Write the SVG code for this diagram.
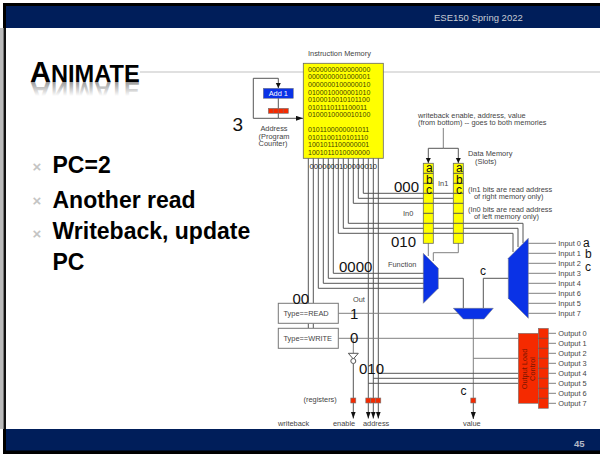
<svg xmlns="http://www.w3.org/2000/svg" width="600" height="455" viewBox="0 0 600 455">
<defs>
<style>
text{font-family:"Liberation Sans",Arial,sans-serif}
.s{font-size:7.400px;fill:#444}
.big{font-size:15px;fill:#111}
.bul{font-size:23px;font-weight:bold;fill:#000}
.x{font-size:15px;font-weight:bold;fill:#c4c4c4;text-anchor:middle}
.mem{font-size:7px;fill:#444400}
.let{font-size:12px;fill:#111}
.l{fill:none;stroke:#555;stroke-width:1}
.lg{fill:none;stroke:#808080;stroke-width:1}
.blue{fill:#0a32e6;stroke:#777;stroke-width:.5}
.red{fill:#f52a00;stroke:#777;stroke-width:.6}
.yel{fill:#ffff00;stroke:#666;stroke-width:.8}
.box{fill:#fff;stroke:#777;stroke-width:1}
.ttl{font-weight:bold}
</style>
<marker id="a" markerWidth="5" markerHeight="7" refX="5" refY="2.500" orient="auto" markerUnits="userSpaceOnUse"><path d="M0 0L5 2.500L0 5Z" fill="#111"/></marker>
<marker id="d" markerWidth="8" markerHeight="8" refX="7" refY="2.500" orient="auto" markerUnits="userSpaceOnUse"><path d="M0 0L7 2.500L0 5Z" fill="#111"/></marker>
<linearGradient id="fade" gradientUnits="userSpaceOnUse" x1="0" y1="-82" x2="0" y2="-96"><stop offset="0" stop-color="#999"/><stop offset="1" stop-color="#fff"/></linearGradient>
</defs>
<rect width="600" height="455" fill="#fff"/>
<g id="frame">
<rect x="3" y="3" width="597" height="25" fill="#000"/>
<rect x="6" y="6" width="594" height="22" fill="#001e5a"/>
<rect x="0" y="28" width="3.500" height="401" fill="#bbb"/>
<rect x="3.500" y="28" width="2.500" height="401" fill="#111"/>
<rect x="3" y="429" width="597" height="25" fill="#000"/>
<rect x="6" y="429" width="594" height="21.500" fill="#001e5a"/>
<text x="434" y="21" font-size="9.500" fill="#c8ccd4">ESE150 Spring 2022</text>
<text x="574" y="446.500" font-size="9.500" font-weight="bold" fill="#b4bac6">45</text>
<rect x="140" y="71" width="460" height="2" fill="#e0e0e0"/>
</g>
<g id="title">
<text class="ttl" x="30" y="82" fill="#000"><tspan font-size="29">A</tspan><tspan font-size="23.600">NIMATE</tspan></text>
<text class="ttl" x="30" y="-82" fill="url(#fade)" transform="scale(1,-1)"><tspan font-size="29">A</tspan><tspan font-size="23.600">NIMATE</tspan></text>
</g>
<g id="bullets">
<text class="x" x="37" y="172">×</text><text class="bul" x="52.500" y="172.700">PC=2</text>
<text class="x" x="37" y="206">×</text><text class="bul" x="52.500" y="207.700">Another read</text>
<text class="x" x="37" y="239">×</text><text class="bul" x="52.500" y="239">Writeback, update</text>
<text class="bul" x="52.500" y="270">PC</text>
</g>
<g id="connectors">
<path class="l" d="M278.300 118.300H253.300V78.300H278.300V88" marker-end="url(#a)"/>
<path class="l" d="M278.300 98V118.300H303" marker-end="url(#d)"/>
<path class="l" d="M363.300 158V193.300H453M358.300 158V198.300H453M353.300 158V203.300H453"/>
<path class="l" d="M348.300 158V223.300H523V243M343.300 158V228.300H518V247M338.300 158V233.300H513V252"/>
<path class="l" d="M333.300 158V273.300H427M328.300 158V278.300H427M323.300 158V283.300H427M318.300 158V288.300H427"/>
<path class="l" d="M308.300 158V303.300M313.300 158V303.300M308.300 323.300V328.300M313.300 323.300V328.300"/>
<path class="l" d="M368.300 158V399M373.300 158V399M378.300 158V399"/>
<path class="l" d="M368.300 403V418.500" marker-end="url(#d)"/>
<path class="l" d="M373.300 403V418.500" marker-end="url(#d)"/>
<path class="l" d="M378.300 403V418.500" marker-end="url(#d)"/>
<path class="lg" d="M443.300 128V148.300"/>
<path class="l" d="M443.300 148.300H428.300V163" marker-end="url(#a)"/>
<path class="l" d="M443.300 148.300H458.300V163" marker-end="url(#a)"/>
<path class="lg" d="M428.300 243V256M458.300 243V252.700H433.300V261"/>
<path class="l" d="M438.300 278.300H463.300V308M508.300 278.300H483.300V308"/>
<path class="lg" d="M338.300 313.300H459"/>
<path class="lg" d="M338.300 338.300H518.300"/>
<path class="lg" d="M473.300 319V398"/>
<path class="l" d="M473.300 403V419" marker-end="url(#d)"/>
<path class="lg" d="M473.300 358.300H518.300"/>
<path class="l" d="M378.300 373.300H518.300M373.300 378.300H518.300M368.300 383.300H518.300"/>
<path class="lg" d="M353.300 338.300V353.300"/>
<path class="l" d="M353.300 363.500V398"/>
<path class="l" d="M353.300 403V418.500" marker-end="url(#d)"/>
<path class="lg" d="M528.300 243.300H556M528.300 253.300H556M528.300 263.300H556M528.300 273.300H556M528.300 283.300H556M528.300 293.300H556M528.300 303.300H556M528.300 313.300H556"/>
<path class="lg" d="M548.300 333.300H556M548.300 343.300H556M548.300 353.300H556M548.300 363.300H556M548.300 373.300H556M548.300 383.300H556M548.300 393.300H556M548.300 403.300H556"/>
</g>
<g id="pc">
<rect x="263.300" y="88.300" width="30" height="10" class="blue"/>
<text x="278.300" y="96.300" font-size="7.400" fill="#fff" text-anchor="middle">Add 1</text>
<rect x="268.300" y="108.300" width="20" height="5" class="red"/>
<path d="M273.300 108.300V113.300M278.300 108.300V113.300M283.300 108.300V113.300" stroke="#777" stroke-width=".5"/>
<text class="s" x="274" y="130.700" text-anchor="middle">Address</text>
<text class="s" x="274" y="138.500" text-anchor="middle">(Program</text>
<text class="s" x="273" y="146" text-anchor="middle">Counter)</text>
<text x="232.500" y="130.500" font-size="19" fill="#111">3</text>
</g>
<g id="instruction-memory">
<text class="s" x="308" y="55.700">Instruction Memory</text>
<rect x="303.300" y="63.300" width="80" height="95" class="yel"/>
<g>
<text class="mem" x="308" y="71.800">0000000000000000</text>
<text class="mem" x="308" y="79.400">0000000001000001</text>
<text class="mem" x="308" y="87">0000000100000010</text>
<text class="mem" x="308" y="94.500">0100010000001010</text>
<text class="mem" x="308" y="102">0100010010101100</text>
<text class="mem" x="308" y="109.600">0101110111100011</text>
<text class="mem" x="308" y="117.200">0100010000010100</text>
<text class="mem" x="308" y="132">0101100000001011</text>
<text class="mem" x="308" y="139.500">0101100110101110</text>
<text class="mem" x="308" y="147">1001011100000001</text>
<text class="mem" x="308" y="154.700">1001011010000000</text>
</g>
<text x="309.500" y="168.700" font-size="7.600" fill="#222">0000000100000010</text>
</g>
<g id="data-memory">
<text class="s" x="418" y="117.500">writeback enable, address, value</text>
<text class="s" x="418" y="124.800">(from bottom) -- goes to both memories</text>
<text class="s" x="468" y="156">Data Memory</text>
<text class="s" x="475" y="164">(Slots)</text>
<text class="s" x="438" y="186">In1</text>
<text class="s" x="403" y="216">In0</text>
<text class="s" x="468" y="191.500">(In1 bits are read address</text>
<text class="s" x="474" y="199">of right memory only)</text>
<text class="s" x="468" y="211.500">(In0 bits are read address</text>
<text class="s" x="474" y="219">of left memory only)</text>
<g id="mem-left">
<rect x="423.300" y="163.300" width="10" height="80" class="yel"/>
<path class="l" d="M423.300 173.300H433.300M423.300 183.300H433.300M423.300 193.300H433.300M423.300 203.300H433.300M423.300 213.300H433.300M423.300 223.300H433.300M423.300 233.300H433.300"/>
<text class="let" x="426" y="172">a</text>
<text class="let" x="426" y="184">b</text>
<text class="let" x="426" y="194">c</text>
</g>
<g id="mem-right">
<rect x="453.300" y="163.300" width="10" height="80" class="yel"/>
<path class="l" d="M453.300 173.300H463.300M453.300 183.300H463.300M453.300 193.300H463.300M453.300 203.300H463.300M453.300 213.300H463.300M453.300 223.300H463.300M453.300 233.300H463.300"/>
<text class="let" x="456" y="172">a</text>
<text class="let" x="456" y="184">b</text>
<text class="let" x="456" y="194">c</text>
</g>
</g>
<g id="mux-left"><polygon class="blue" points="423.300,253.300 438.300,268.300 438.300,288.300 423.300,303.300"/></g>
<g id="mux-right"><polygon class="blue" points="508.300,258.300 528.300,238.300 528.300,318.300 508.300,298.300"/></g>
<g id="mux-out"><polygon class="blue" points="453.300,308.300 493.300,308.300 484,319 463.300,319"/></g>
<g id="type-read"><rect x="278.300" y="303.300" width="60" height="20" class="box"/><text class="s" x="283.500" y="316">Type==READ</text></g>
<g id="type-write"><rect x="278.300" y="328.300" width="60" height="20" class="box"/><text class="s" x="283.500" y="341">Type==WRITE</text></g>
<g id="inverter"><polygon points="348.300,353.300 358.300,353.300 353.300,359" fill="#fff" stroke="#555"/><circle cx="353.300" cy="361" r="2.500" fill="#fff" stroke="#555"/></g>
<g id="registers">
<rect x="350.800" y="398" width="5" height="5" class="red"/>
<rect x="365.800" y="398" width="5" height="5" class="red"/>
<rect x="370.800" y="398" width="5" height="5" class="red"/>
<rect x="375.800" y="398" width="5" height="5" class="red"/>
<rect x="470.800" y="398" width="5" height="5" class="red"/>
</g>
<g id="output-load-control">
<rect x="518.300" y="333.300" width="20" height="70" class="red"/>
<rect x="538.300" y="328.300" width="10" height="80" class="red"/>
<path stroke="#555" stroke-width=".7" d="M538.300 338.300H548.300M538.300 348.300H548.300M538.300 358.300H548.300M538.300 368.300H548.300M538.300 378.300H548.300M538.300 388.300H548.300M538.300 398.300H548.300"/>
<text transform="translate(527,369) rotate(-90)" font-size="7.400" fill="#7a1500" text-anchor="middle">Output Load</text>
<text transform="translate(535,369) rotate(-90)" font-size="7.400" fill="#7a1500" text-anchor="middle">Control</text>
</g>
<g id="labels">
<text class="big" x="394" y="192">000</text>
<text class="big" x="391" y="246.700">010</text>
<text class="big" x="339" y="271.700">0000</text>
<text class="big" x="292.500" y="304">00</text>
<text class="big" x="350" y="319">1</text>
<text class="big" x="350" y="343">0</text>
<text class="big" x="359" y="374">010</text>
<text class="let" x="480" y="275">c</text>
<text class="let" x="460.500" y="395">c</text>
<text class="s" x="388" y="266.700">Function</text>
<text class="s" x="353" y="301.700">Out</text>
<text class="s" x="303.500" y="401.700">(registers)</text>
<text class="s" x="278" y="426">writeback</text>
<text class="s" x="333" y="426">enable</text>
<text class="s" x="363" y="426">address</text>
<text class="s" x="463" y="426">value</text>
<text class="s" x="558.300" y="246">Input 0</text>
<text class="s" x="558.300" y="256">Input 1</text>
<text class="s" x="558.300" y="266">Input 2</text>
<text class="s" x="558.300" y="276">Input 3</text>
<text class="s" x="558.300" y="286">Input 4</text>
<text class="s" x="558.300" y="296">Input 6</text>
<text class="s" x="558.300" y="306">Input 5</text>
<text class="s" x="558.300" y="316">Input 7</text>
<text class="let" x="583" y="247">a</text>
<text class="let" x="585" y="258">b</text>
<text class="let" x="585" y="271">c</text>
<text class="s" x="558.300" y="336">Output 0</text>
<text class="s" x="558.300" y="346">Output 1</text>
<text class="s" x="558.300" y="356">Output 2</text>
<text class="s" x="558.300" y="366">Output 3</text>
<text class="s" x="558.300" y="376">Output 4</text>
<text class="s" x="558.300" y="386">Output 5</text>
<text class="s" x="558.300" y="396">Output 6</text>
<text class="s" x="558.300" y="406">Output 7</text>
</g>
</svg>
